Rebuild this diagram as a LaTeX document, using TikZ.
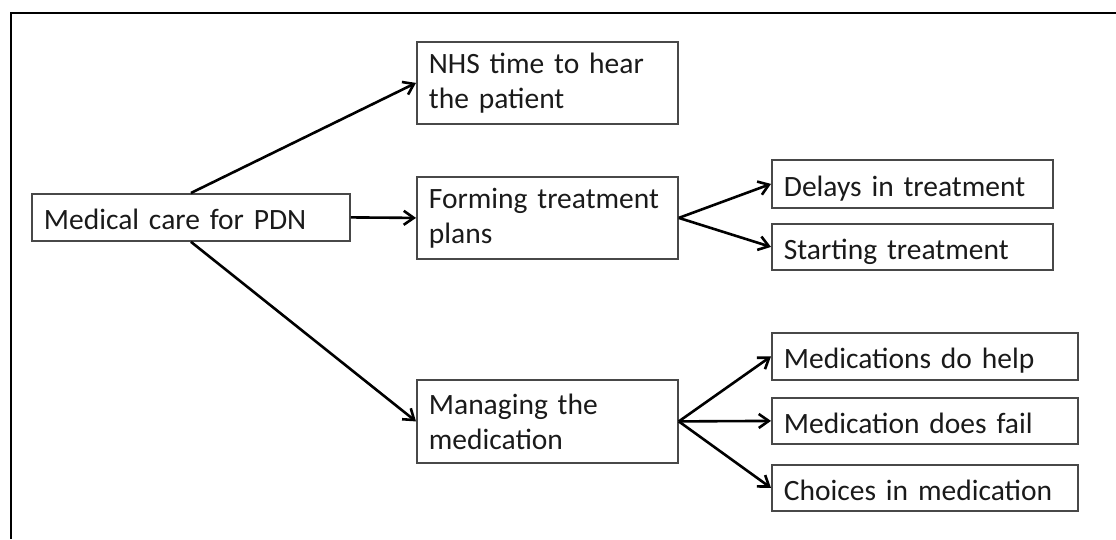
\documentclass[tikz,border=0pt]{standalone}
\usepackage{fontspec}
\setmainfont{Carlito}
\usetikzlibrary{arrows.meta}
\definecolor{boxline}{HTML}{484848}
\definecolor{ink}{HTML}{1A1A1A}
\tikzset{
  box/.style={draw=boxline, line width=1.8pt, anchor=north west, inner ysep=0pt,
    inner xsep=12pt, align=left, text=ink,
    font=\fontsize{29.5}{35}\selectfont},
  oneline/.style={box, text height=25pt, text depth=0pt},
  link/.style={draw=black, line width=2.6pt,
    -{Straight Barb[length=10pt,width=14pt,line width=2.6pt]}},
  frame/.style={draw=black, line width=2.6pt}
}
\begin{document}
\begin{tikzpicture}[x=1pt, y=-1pt]
  \useasboundingbox (0,0) rectangle (1116,539);
  % partial outer frame (top and left edges)
  \coordinate (ftr) at (1116,13);
  \coordinate (ftl) at (11,13);
  \coordinate (fbl) at (11,539);
  \draw[frame] (ftr) -- (ftl) -- (fbl);

  % root
  \node[oneline, minimum width=318pt, minimum height=47pt, text width=294pt] (med) at (31,193) {Medical care for PDN};

  % second level
  \node[box, minimum width=261pt, minimum height=82pt, text width=237pt] (nhs) at (416,41) {NHS time to hear\\the patient};
  \node[box, minimum width=261pt, minimum height=82pt, text width=237pt] (form) at (416,176) {Forming treatment\\plans};
  \node[box, minimum width=261pt, minimum height=83pt, text width=237pt] (man) at (416,379) {Managing the\\medication};

  % third level
  \node[oneline, minimum width=281pt, minimum height=48pt, text width=257pt] (delay) at (771,159) {Delays in treatment};
  \node[oneline, minimum width=281pt, minimum height=46pt, text width=257pt] (start) at (771,223) {Starting treatment};
  \node[oneline, minimum width=306pt, minimum height=47pt, text width=282pt] (help) at (771,332) {Medications do help};
  \node[oneline, minimum width=306pt, minimum height=46pt, text width=282pt] (fail) at (771,397) {Medication does fail};
  \node[oneline, minimum width=306pt, minimum height=46pt, text width=282pt] (choice) at (771,464) {Choices in medication};

  % connectors
  \draw[link] (med.north) -- (nhs.west);
  \draw[link] (med.east) -- (form.west);
  \draw[link] (med.south) -- (man.west);
  \draw[link] (form.east) -- (delay.west);
  \draw[link] (form.east) -- (start.west);
  \draw[link] (man.east) -- (help.west);
  \draw[link] (man.east) -- (fail.west);
  \draw[link] (man.east) -- (choice.west);
\end{tikzpicture}
\end{document}
